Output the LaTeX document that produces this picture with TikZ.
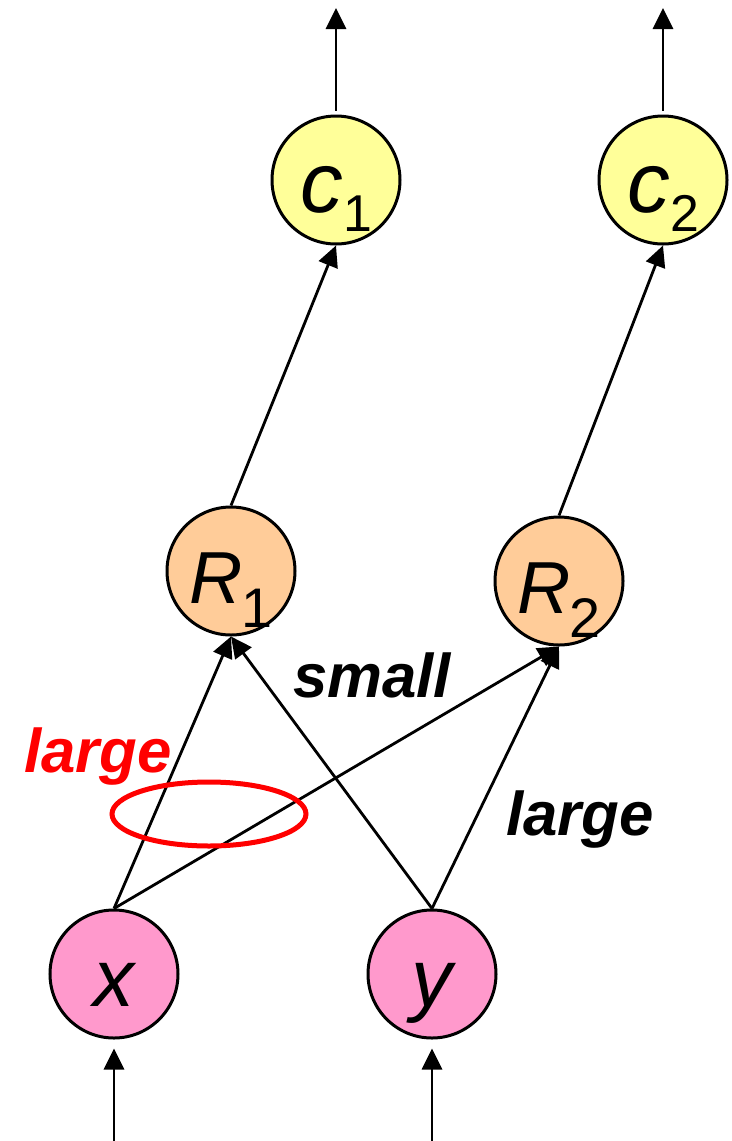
\documentclass[tikz,border=0pt]{standalone}
\usepackage{fontspec}
\setmainfont{Liberation Sans}
\usetikzlibrary{arrows.meta}
\definecolor{outYellow}{HTML}{FFFF99}
\definecolor{ruleOrange}{HTML}{FFCC99}
\definecolor{inPink}{HTML}{FF99CC}
\newcommand{\cname}[1]{{\fontsize{86}{86}\selectfont\itshape c}\raisebox{-19bp}{\fontsize{52}{52}\selectfont #1}}
\newcommand{\rname}[1]{{\fontsize{74}{74}\selectfont\itshape R}\kern-2bp\raisebox{-24bp}{\fontsize{56}{56}\selectfont #1}}
\begin{document}
\begin{tikzpicture}[x=1bp, y=-1bp,
    unit/.style={circle, draw, line width=3bp, minimum size=128bp, inner sep=0pt, text height=64bp, text depth=0bp},
    outUnit/.style={unit, fill=outYellow},
    ruleUnit/.style={unit, fill=ruleOrange},
    inUnit/.style={unit, fill=inPink, font=\fontsize{82}{82}\selectfont\itshape},
    link/.style={line width=2.8bp, -{Triangle[length=21bp, width=20bp]}},
    weight/.style={font=\fontsize{62}{62}\selectfont\bfseries\itshape, anchor=base}
  ]
  \useasboundingbox (0,0) rectangle (732,1141);

  % output units
  \node[outUnit] (c1) at (336,180) {\cname{1}};
  \node[outUnit] (c2) at (663,180) {\cname{2}};
  \coordinate (c1out) at (336,8);
  \coordinate (c2out) at (663,8);

  % rule units
  \node[ruleUnit] (r1) at (231,571) {\rname{1}};
  \node[ruleUnit] (r2) at (559,581) {\rname{2}};

  % input units
  \node[inUnit] (x) at (114,974) {x};
  \node[inUnit] (y) at (432,974) {y};
  \coordinate (xin) at (114,1141);
  \coordinate (yin) at (432,1141);

  % connections
  \draw[link, shorten <=4bp] (c1.north) -- (c1out);
  \draw[link, shorten <=4bp] (c2.north) -- (c2out);
  \draw[link] (r1.north) -- (c1.south);
  \draw[link] (r2.north) -- (c2.south);
  \draw[link] (x.north) -- (r1.south);
  \draw[link] (x.north) -- (r2.south);
  \draw[link] (y.north) -- (r1.south);
  \draw[link] (y.north) -- (r2.south);
  \draw[link, shorten >=9bp] (xin) -- (x.south);
  \draw[link, shorten >=9bp] (yin) -- (y.south);

  % weights
  \node[weight, red] (wx) at (98,772) {large};
  \node[weight] (ws) at (372,697) {small};
  \node[weight] (wy) at (580,835) {large};
  \draw[red, line width=5bp] (209,814) ellipse [x radius=97, y radius=32];

\end{tikzpicture}
\end{document}
